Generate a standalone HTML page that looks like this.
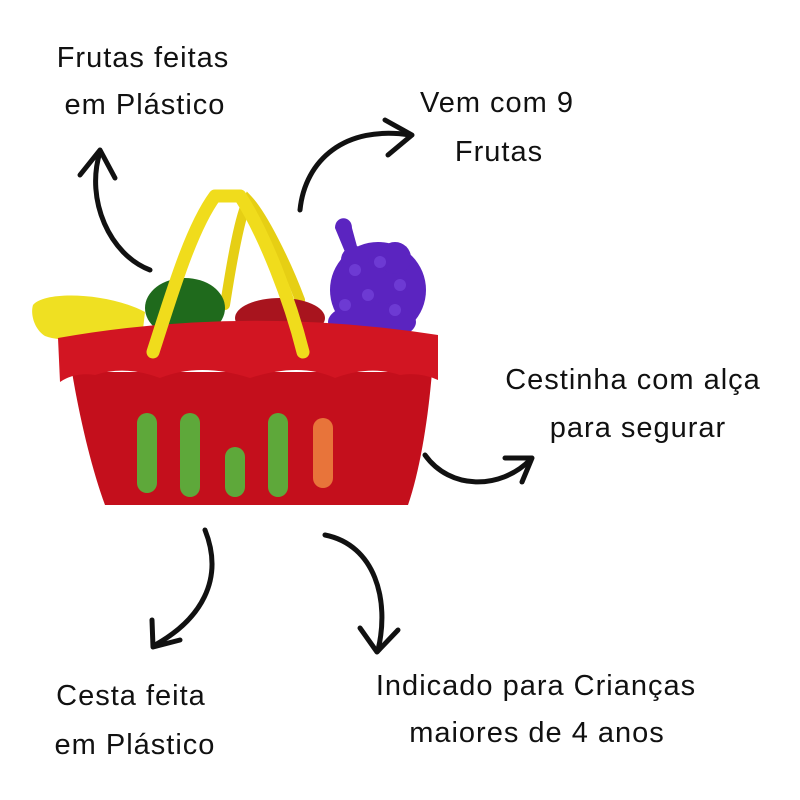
<!DOCTYPE html>
<html><head><meta charset="utf-8"><style>
html,body{margin:0;padding:0;background:#fff;}
svg{display:block}
text{font-family:"Liberation Sans",sans-serif;font-size:29px;fill:#111;letter-spacing:1px}
</style></head><body>
<svg width="800" height="800" viewBox="0 0 800 800" xmlns="http://www.w3.org/2000/svg">
<rect width="800" height="800" fill="#fff"/>
<text x="143" y="67" text-anchor="middle">Frutas feitas</text>
<text x="145" y="114" text-anchor="middle">em Plástico</text>
<text x="497" y="112" text-anchor="middle">Vem com 9</text>
<text x="499" y="161" text-anchor="middle">Frutas</text>
<text x="633" y="389" text-anchor="middle">Cestinha com alça</text>
<text x="638" y="437" text-anchor="middle">para segurar</text>
<text x="131" y="705" text-anchor="middle">Cesta feita</text>
<text x="135" y="754" text-anchor="middle">em Plástico</text>
<text x="536" y="695" text-anchor="middle">Indicado para Crianças</text>
<text x="537" y="742" text-anchor="middle">maiores de 4 anos</text>
<g fill="none" stroke="#111" stroke-width="5" stroke-linecap="round" stroke-linejoin="round">
<path d="M150 270 C110 255 85 200 100 152"/><path d="M80 175 L100 150 L115 178"/>
<path d="M300 210 C305 160 345 125 410 135"/><path d="M385 120 L412 135 L388 155"/>
<path d="M425 455 C450 490 500 490 530 460"/><path d="M505 458 L532 458 L522 482"/>
<path d="M205 530 C225 580 200 620 155 645"/><path d="M152 620 L153 647 L180 640"/>
<path d="M325 535 C375 545 390 600 378 650"/><path d="M360 628 L377 652 L398 630"/>
</g>
<!-- back handle -->
<path d="M225 305 C232 260 240 215 248 200 C262 215 285 260 300 300" fill="none" stroke="#e6cf14" stroke-width="10" stroke-linecap="round"/>
<!-- fruits behind -->
<path d="M33 305 C45 290 110 293 145 312 L142 338 C110 336 70 345 45 336 C35 330 30 315 33 305 Z" fill="#efe022"/>
<ellipse cx="185" cy="308" rx="40" ry="30" fill="#1f6a1c"/>
<ellipse cx="280" cy="318" rx="45" ry="20" fill="#a8141e"/>
<!-- grapes -->
<g fill="#5b24c0">
<path d="M335 228 C335 215 352 215 352 228 L358 250 L345 252 Z"/>
<ellipse cx="378" cy="290" rx="48" ry="48"/>
<ellipse cx="372" cy="322" rx="44" ry="20"/>
<circle cx="355" cy="260" r="14"/><circle cx="395" cy="258" r="16"/>
</g>
<g fill="#7a4ae0" opacity="0.6">
<circle cx="355" cy="270" r="6"/><circle cx="380" cy="262" r="6"/><circle cx="400" cy="285" r="6"/><circle cx="368" cy="295" r="6"/><circle cx="395" cy="310" r="6"/><circle cx="345" cy="305" r="6"/>
</g>
<!-- basket body -->
<path d="M72 372 L432 372 C428 420 420 470 408 505 L105 505 C92 470 80 420 72 372 Z" fill="#c40f1c"/>
<g fill="#5ea83a">
<rect x="137" y="413" width="20" height="80" rx="10"/>
<rect x="180" y="413" width="20" height="84" rx="10"/>
<rect x="225" y="447" width="20" height="50" rx="10"/>
<rect x="268" y="413" width="20" height="84" rx="10"/>
<rect x="313" y="418" width="20" height="70" rx="10" fill="#e8743a"/>
</g>
<!-- rim -->
<path d="M58 338 Q245 305 438 335 L438 380 Q420 372 400 375 Q370 365 335 378 Q300 362 250 378 Q200 362 160 378 Q125 365 95 375 Q75 372 60 382 Z" fill="#d21522"/>
<!-- front handle -->
<path d="M153 352 C170 300 190 230 215 196 L240 196 C265 235 290 300 303 352" fill="none" stroke="#f0dc1c" stroke-width="13" stroke-linecap="round" stroke-linejoin="round"/>
</svg>
</body></html>
